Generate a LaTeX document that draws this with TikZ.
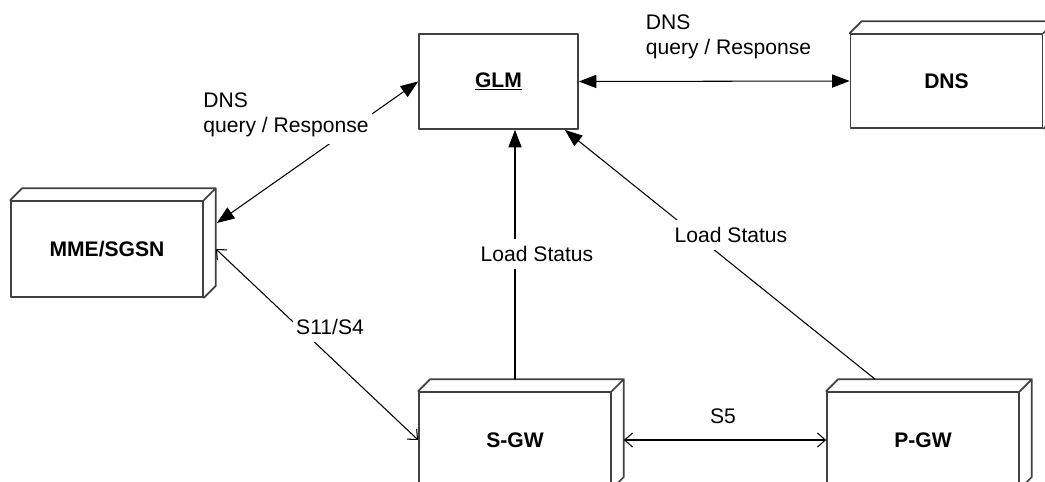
\documentclass[tikz,border=0pt]{standalone}
\usepackage{fontspec}
\setmainfont{Liberation Sans}
\usetikzlibrary{arrows.meta}

\tikzset{
  unit/.style={draw=black!75,line width=1pt,fill=white,minimum width=3.84cm,minimum height=1.92cm,font=\fontsize{12}{14}\selectfont\bfseries},
  depth/.style={draw=black!75,line width=1pt},
  msg/.style={<->,line width=0.6pt},
  load/.style={->,line width=0.6pt},
  iface/.style={{Straight Barb[length=4.5pt,width=8pt]}-{Straight Barb[length=4.5pt,width=8pt]},line width=0.6pt},
  lbl/.style={fill=white,inner xsep=2pt,inner ysep=4pt,font=\fontsize{12}{14}\selectfont}
}

\begin{document}
\begin{tikzpicture}[line cap=round,line join=round,>={Triangle[length=10pt,width=7.5pt]},x=0.02cm,y=-0.02cm]
\useasboundingbox (0,0) rectangle (1045,481);
\clip (0,0) rectangle (1045,481);
% boxes
\node[unit] (mme) at (107,249) {MME/SGSN};
\node[unit,minimum width=3.18cm,minimum height=1.9cm] (glm) at (498.5,81.5) {\underline{GLM}};
\node[unit,minimum height=1.88cm] (dns) at (946.5,81) {DNS};
\node[unit] (sgw) at (515,440) {S-GW};
\node[unit] (pgw) at (923,440) {P-GW};
\foreach \n in {mme,dns,sgw,pgw}
  \draw[depth] (\n.north west) -- ++(12,-12) -- ([shift={(12,-12)}]\n.north east) -- ([shift={(12,-12)}]\n.south east) -- (\n.south east) (\n.north east) -- ++(12,-12);
% links
\draw[msg] (glm.west) -- ([shift={(13,-26)}]mme.east);
\draw[msg] (glm.east) -- (dns.west);
\draw[load] ([shift={(0,-12)}]sgw.north) -- (sgw.north |- glm.south);
\draw[load] ([shift={(-48,-12)}]pgw.north) -- ([shift={(-14,0)}]glm.south east);
\draw[iface] ([shift={(12,0)}]mme.east) -- (sgw.west);
\draw[iface] ([shift={(12,0)}]sgw.east) -- (pgw.west);
% labels
\node[lbl,align=left] (dnsq1) at (286,115) {DNS\\query / Response};
\node[lbl,align=left] (dnsq2) at (728.5,37) {DNS\\query / Response};
\node[lbl] (load1) at (537,254) {Load Status};
\node[lbl] (load2) at (731,235) {Load Status};
\node[lbl] (s11) at (330,327) {S11/S4};
\node[lbl] (s5) at (723,416) {S5};
\end{tikzpicture}
\end{document}
